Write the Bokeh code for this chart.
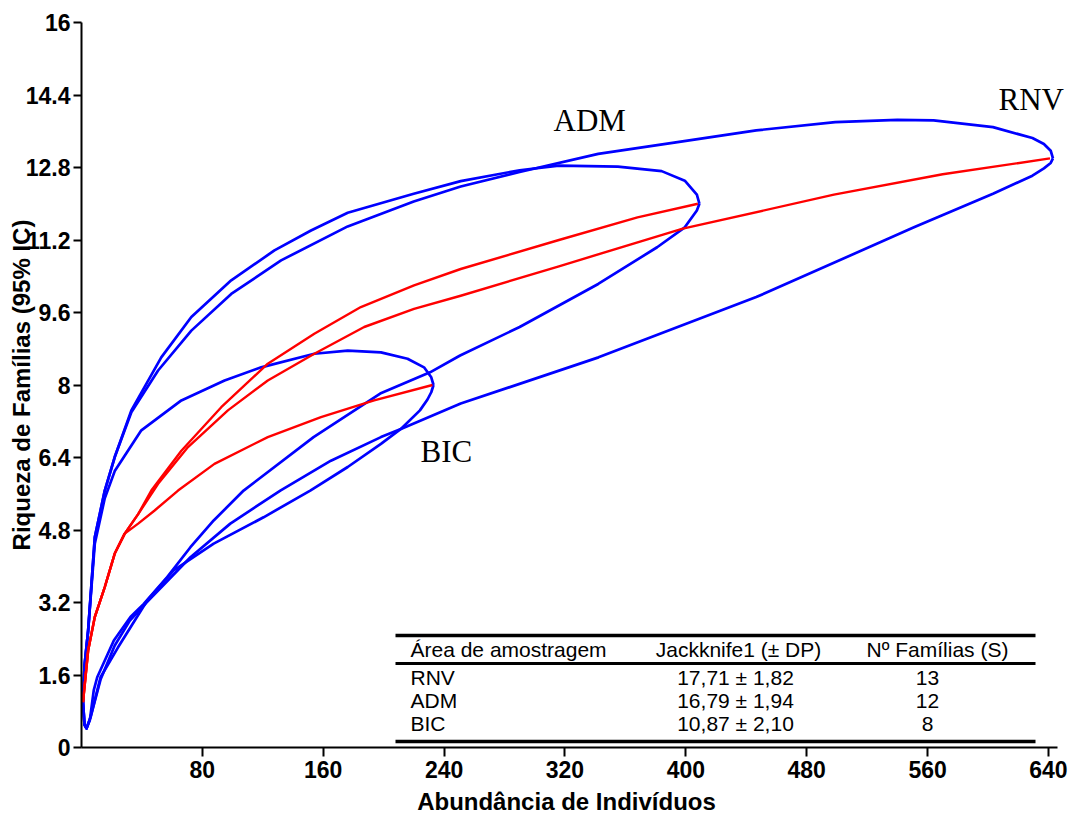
import math
from bokeh.plotting import figure
from bokeh.models import Range1d, FixedTicker, Label
from bokeh.core.properties import value
from bokeh.embed import file_html
from bokeh.resources import INLINE

# ---------------- data ----------------
# rarefaction curves (red)
rnv_x = [1, 4.4, 8.8, 15.4, 22, 28.6, 37.5, 50.7, 70.5, 96.9, 123.3, 154.1, 187.1, 220.1, 251, 316, 398, 498, 570, 641]
rnv_y = [1, 2.14, 2.88, 3.54, 4.28, 4.72, 5.15, 5.82, 6.63, 7.44, 8.10, 8.69, 9.28, 9.68, 9.97, 10.62, 11.45, 12.2, 12.65, 13.0]
adm_x = [1, 4.4, 8.8, 15.4, 22, 28.6, 37.5, 46.2, 66.1, 92.5, 123.3, 154.1, 184.9, 220.1, 251, 316, 368, 408]
adm_y = [1, 2.14, 2.88, 3.54, 4.28, 4.72, 5.15, 5.67, 6.55, 7.51, 8.47, 9.13, 9.72, 10.20, 10.56, 11.20, 11.70, 12.0]
bic_x = [1, 4.4, 8.8, 15.4, 22, 28.6, 37.5, 48.4, 63.9, 88, 123.3, 158.5, 193.7, 232.3]
bic_y = [1, 2.14, 2.88, 3.54, 4.28, 4.72, 4.94, 5.23, 5.67, 6.26, 6.85, 7.29, 7.66, 8.0]

# 95% confidence limits (blue): upper and lower
rnv_up_x = [1, 2, 4.4, 8.8, 15.4, 22, 33, 50.7, 72.7, 99.1, 132.1, 176.2, 219.9, 251, 290, 342, 394.5, 446.6, 498.9, 540, 564, 603.3, 629.4, 637, 641.5, 643]
rnv_up_y = [1, 1.8, 2.58, 4.64, 5.67, 6.41, 7.40, 8.32, 9.20, 10.01, 10.75, 11.5, 12.05, 12.38, 12.70, 13.10, 13.36, 13.62, 13.80, 13.85, 13.84, 13.69, 13.45, 13.32, 13.17, 13.0]
rnv_lo_x = [1, 2, 3.3, 6, 12.6, 22, 32, 43, 57, 72.1, 98.5, 131.6, 165.1, 198.2, 211.4, 251, 342.2, 446.6, 551, 603.3, 629.4, 637, 641.5, 643]
rnv_lo_y = [1, 0.5, 0.42, 0.67, 1.5, 2.25, 2.8, 3.2, 3.68, 4.20, 4.94, 5.67, 6.33, 6.85, 7.03, 7.59, 8.61, 9.94, 11.48, 12.22, 12.62, 12.78, 12.9, 13.0]

adm_up_x = [1, 2, 4.4, 8.8, 15.4, 22, 33, 52.8, 72.7, 99.1, 127.7, 151.9, 176.2, 219.9, 251, 290, 316, 355, 384, 399.3, 407.3, 409]
adm_up_y = [1, 1.8, 2.58, 4.64, 5.67, 6.41, 7.44, 8.61, 9.50, 10.31, 10.97, 11.41, 11.80, 12.22, 12.50, 12.74, 12.84, 12.82, 12.72, 12.51, 12.2, 12.0]
adm_lo_x = [1, 2, 3.3, 5.5, 8.1, 10.4, 21.4, 32.4, 41.2, 56.7, 72.1, 87.5, 107.3, 153.6, 197.7, 230.7, 250.6, 290, 342, 381, 399.3, 407.3, 409]
adm_lo_y = [1, 0.5, 0.42, 0.6, 1.26, 1.55, 2.36, 2.88, 3.17, 3.76, 4.42, 5.01, 5.67, 6.85, 7.81, 8.28, 8.65, 9.28, 10.23, 11.04, 11.48, 11.85, 12.0]

bic_up_x = [1, 2, 4.4, 8.8, 15.4, 22, 39.6, 66.1, 94.7, 118.9, 154.1, 176.2, 198.2, 215.8, 226.7, 231.5, 233]
bic_up_y = [1, 1.8, 2.58, 4.5, 5.5, 6.1, 7.0, 7.66, 8.10, 8.39, 8.69, 8.76, 8.72, 8.58, 8.39, 8.17, 8.0]
bic_lo_x = [1, 2, 3.3, 6, 12.6, 24, 43.4, 61.0, 87.5, 120.5, 151.4, 176.2, 198.2, 211.4, 224, 229, 231.5, 233]
bic_lo_y = [1, 0.5, 0.42, 0.67, 1.55, 2.2, 3.24, 3.91, 4.50, 5.08, 5.67, 6.19, 6.70, 7.03, 7.44, 7.68, 7.84, 8.0]

# axis ticks
x_ticks = [80, 160, 240, 320, 400, 480, 560, 640]
y_ticks = [0, 1.6, 3.2, 4.8, 6.4, 8, 9.6, 11.2, 12.8, 14.4, 16]
y_tick_labels = ["0", "1.6", "3.2", "4.8", "6.4", "8", "9.6", "11.2", "12.8", "14.4", "16"]

# inset table
table_header = ["Área de amostragem", "Jackknife1 (± DP)", "Nº Famílias (S)"]
table_area = ["RNV", "ADM", "BIC"]
table_jack = ["17,71 ± 1,82", "16,79 ± 1,94", "10,87 ± 2,10"]
table_fam = ["13", "12", "8"]

curve_names = ["RNV", "ADM", "BIC"]
x_title = "Abundância de Indivíduos"
y_title = "Riqueza de Famílias (95% IC)"

# ---------------- figure ----------------
W, H = 1071, 817
L, T, B = 81, 22, 70
AX_END = 646          # where the x axis line stops
AX_PX = 976           # pixel length of the x axis line
YMAX = 16
fw = W - L            # frame runs to the right edge so labels are not clipped
fh = H - T - B
XMAX = fw * AX_END / AX_PX

p = figure(width=W, height=H, x_range=Range1d(0, XMAX), y_range=Range1d(0, YMAX),
           output_backend="svg", toolbar_location=None,
           min_border_left=L, min_border_right=0, min_border_top=T, min_border_bottom=B)
p.outline_line_color = None
p.grid.visible = False
p.background_fill_color = "white"
p.border_fill_color = "white"


def X(px):
    return (px - L) * XMAX / fw


def Y(py):
    return (H - B - py) * YMAX / fh


for ax in (p.xaxis[0], p.yaxis[0]):
    ax.axis_line_width = 2
    ax.axis_line_color = "black"
    ax.major_tick_line_width = 2
    ax.major_tick_line_color = "black"
    ax.minor_tick_line_color = None
    ax.major_tick_in = 0
    ax.major_label_text_font = "Liberation Sans"
    ax.major_label_text_font_style = "bold"
    ax.major_label_text_font_size = "23px"
    ax.major_label_text_color = "black"
    ax.axis_label_text_font = "Liberation Sans"
    ax.axis_label_text_font_style = "bold"
    ax.axis_label_text_font_size = "24px"
    ax.axis_label_text_color = "black"

p.xaxis.bounds = (0, AX_END)
p.xaxis.ticker = FixedTicker(ticks=x_ticks)
p.xaxis.major_tick_out = 9
p.xaxis.major_label_standoff = 4
p.xaxis.axis_label = x_title + "\u00a0\u00a0\u00a0"
p.xaxis.axis_label_standoff = 7

p.yaxis.ticker = FixedTicker(ticks=y_ticks)
p.yaxis.major_label_overrides = {t: s for t, s in zip(y_ticks, y_tick_labels)}
p.yaxis.major_tick_out = 8
p.yaxis.major_label_standoff = 3
p.yaxis.axis_label = y_title
p.yaxis.axis_label_standoff = -12

# confidence loops
for ux, uy, lx, ly in [(rnv_up_x, rnv_up_y, rnv_lo_x, rnv_lo_y),
                       (adm_up_x, adm_up_y, adm_lo_x, adm_lo_y),
                       (bic_up_x, bic_up_y, bic_lo_x, bic_lo_y)]:
    p.line(ux, uy, line_color="#0000FF", line_width=2.7, line_join="round")
    p.line(lx, ly, line_color="#0000FF", line_width=2.7, line_join="round")

# rarefaction curves
for cx, cy in [(rnv_x, rnv_y), (adm_x, adm_y), (bic_x, bic_y)]:
    p.line(cx, cy, line_color="#FF0000", line_width=2.4, line_join="round")

# curve names (Times-like); positions are the centre of the capitals
name_pos = {"RNV": (998, 99), "ADM": (553, 120), "BIC": (420, 451)}
for nm in curve_names:
    px, py = name_pos[nm]
    p.add_layout(Label(x=X(px), y=Y(py), text=nm, text_font="Liberation Serif",
                       text_font_size="31px", text_color="black",
                       text_align="left", text_baseline="middle"))

# inset table
line_left, line_right = 395, 1035
for py, lw in [(635, 3.5), (663, 2.8), (741, 3.5)]:
    p.segment(x0=[X(line_left)], y0=[Y(py)], x1=[X(line_right)], y1=[Y(py)],
              line_color="black", line_width=lw)

tfont = value("Liberation Sans")
col_head_x = [(410, "left"), (738, "center"), (937, "center")]
col_val_x = [(410, "left"), (735, "center"), (927, "center")]
for (cx, al), txt in zip(col_head_x, table_header):
    p.text(x=[X(cx)], y=[Y(649)], text=[txt], text_font=tfont, text_font_size="21px",
           text_color="black", text_align=al, text_baseline="middle")
row_mid = [677, 700, 723]
for i in range(3):
    for (cx, al), txt in zip(col_val_x, [table_area[i], table_jack[i], table_fam[i]]):
        p.text(x=[X(cx)], y=[Y(row_mid[i])], text=[txt], text_font=tfont, text_font_size="21px",
               text_color="black", text_align=al, text_baseline="middle")

open("out.html", "w").write(file_html(p, INLINE))
